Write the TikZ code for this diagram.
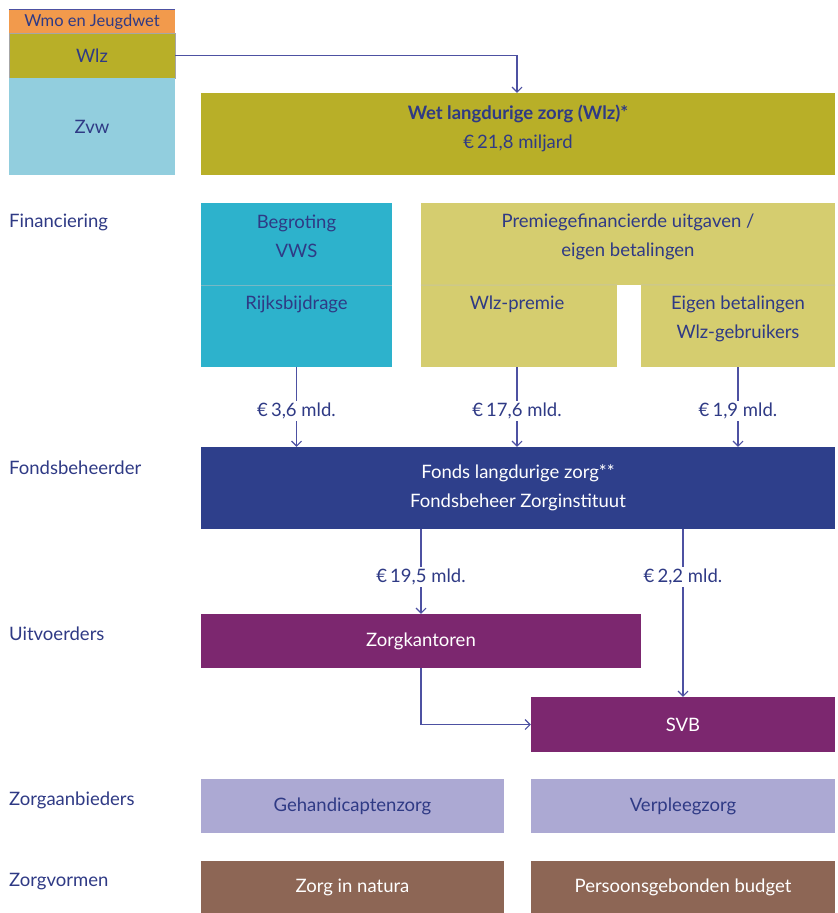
\documentclass[tikz,border=0pt]{standalone}
\usepackage{fontspec}
\setmainfont{Lato}
\usetikzlibrary{positioning,arrows.meta}

\definecolor{txtblue}{HTML}{2F3A85}
\definecolor{lineblue}{HTML}{4D51A2}
\definecolor{wmoorange}{HTML}{F29A4C}
\definecolor{wlzolive}{HTML}{B8AF28}
\definecolor{zvwblue}{HTML}{92CEDE}
\definecolor{vwscyan}{HTML}{2DB2CC}
\definecolor{premieyellow}{HTML}{D5CD6F}
\definecolor{fondsblue}{HTML}{2E3F8B}
\definecolor{uitvpurple}{HTML}{7C276F}
\definecolor{aanblilac}{HTML}{ACA9D3}
\definecolor{vormbrown}{HTML}{8D6655}

\begin{document}
\begin{tikzpicture}[
		x=1pt, y=-1pt,
		txt/.style={font=\fontsize{18.5}{29}\selectfont, text=txtblue, align=center, inner sep=0pt},
		wtxt/.style={txt, text=white},
		box/.style={rectangle, inner sep=0pt, minimum width=#1},
		rowlabel/.style={txt, anchor=west, align=left},
		flow/.style={draw=lineblue, line width=1.1pt, -{Straight Barb[length=5pt,width=10pt]}},
		amount/.style={txt, fill=white, inner sep=2pt},
		sepline/.style={draw=black!25, line width=1pt, opacity=.5},
	]
		\fill[white] (0,0) rectangle (838,913);
		\useasboundingbox (0,0) rectangle (838,913);

		\node [box=166pt, minimum height=23pt, fill=wmoorange, txt, font=\fontsize{16.5}{18}\selectfont] (wmo) at (92,21.5) {Wmo en Jeugdwet};
		\draw [lineblue, line width=1pt] (wmo.north west) -- (wmo.north east);
		\node [box=166pt, minimum height=45pt, fill=wlzolive, draw=black!35, txt] (wlzleg) at (92,55.5) {Wlz};
		\node [box=166pt, minimum height=97pt, fill=zvwblue, txt] (zvw) at (92,126.5) {Zvw};

		\node [box=634pt, minimum height=82pt, fill=wlzolive] (wlz) at (518,134) {};
		\node [txt] (wlztxt) at (518,128) {\textbf{Wet langdurige zorg (Wlz)*}\\\texteuro\,21,8 miljard};

		\node [rowlabel] (finlabel) at (9,222) {Financiering};
		\node [box=191pt, minimum height=164pt, fill=vwscyan] (begroting) at (296.5,285) {};
		\draw [sepline] (begroting.west) -- (begroting.east);
		\node [txt] (begrotingtxt) at (296.5,236) {Begroting\\VWS};
		\node [txt] (rijkstxt) at (296.5,304) {Rijksbijdrage};

		\node [box=414pt, minimum height=82pt, fill=premieyellow] (premie) at (628,244) {};
		\node [box=196pt, minimum height=82pt, fill=premieyellow] (wlzpremie) at (519,326) {};
		\node [box=194pt, minimum height=82pt, fill=premieyellow] (eigen) at (738,326) {};
		\draw [sepline] (premie.south west) -- (wlzpremie.north east);
		\draw [sepline] (eigen.north west) -- (premie.south east);
		\node [txt] (premietxt) at (628,236.5) {Premiegefinancierde uitgaven /\\eigen betalingen};
		\node [txt] (wlzpremietxt) at (517,304) {Wlz-premie};
		\node [txt] (eigentxt) at (738,318.5) {Eigen betalingen\\Wlz-gebruikers};

		\node [rowlabel] (fondslabel) at (9,468) {Fondsbeheerder};
		\node [box=634pt, minimum height=82pt, fill=fondsblue, wtxt] (fonds) at (518,488) {Fonds langdurige zorg**\\Fondsbeheer Zorginstituut};

		\node [rowlabel] (uitvlabel) at (9,634) {Uitvoerders};
		\node [box=440pt, minimum height=54pt, fill=uitvpurple, wtxt] (zorgkantoren) at (421,641) {Zorgkantoren};
		\node [box=304pt, minimum height=55pt, fill=uitvpurple, wtxt] (svb) at (683,724.5) {SVB};

		\node [rowlabel] (aanblabel) at (9,800) {Zorgaanbieders};
		\node [box=303pt, minimum height=54pt, fill=aanblilac, txt] (gehandicapt) at (352.5,806) {Gehandicaptenzorg};
		\node [box=304pt, minimum height=54pt, fill=aanblilac, txt] (verpleeg) at (683,806) {Verpleegzorg};

		\node [rowlabel] (vormlabel) at (9,882) {Zorgvormen};
		\node [box=303pt, minimum height=52pt, fill=vormbrown, wtxt] (natura) at (352.5,887) {Zorg in natura};
		\node [box=304pt, minimum height=52pt, fill=vormbrown, wtxt] (pgb) at (683,887) {Persoonsgebonden budget};

		\draw [flow] (wlzleg.east) -| ([xshift=-1pt]wlz.north);
		\draw [flow] (begroting.south) -- node[amount, pos=.55] {\texteuro\,3,6 mld.} (begroting.south |- fonds.north);
		\draw [flow] ([xshift=-2pt]wlzpremie.south) -- node[amount, pos=.55] {\texteuro\,17,6 mld.} ([xshift=-2pt]wlzpremie.south |- fonds.north);
		\draw [flow] (eigen.south) -- node[amount, pos=.55] {\texteuro\,1,9 mld.} (eigen.south |- fonds.north);
		\draw [flow] (fonds.south -| zorgkantoren.south) -- node[amount, pos=.57] {\texteuro\,19,5 mld.} (zorgkantoren.north);
		\draw [flow] (fonds.south -| svb.north) -- node[amount, pos=.285] {\texteuro\,2,2 mld.} (svb.north);
		\draw [flow] (zorgkantoren.south) |- (svb.west);
	\end{tikzpicture}
\end{document}
